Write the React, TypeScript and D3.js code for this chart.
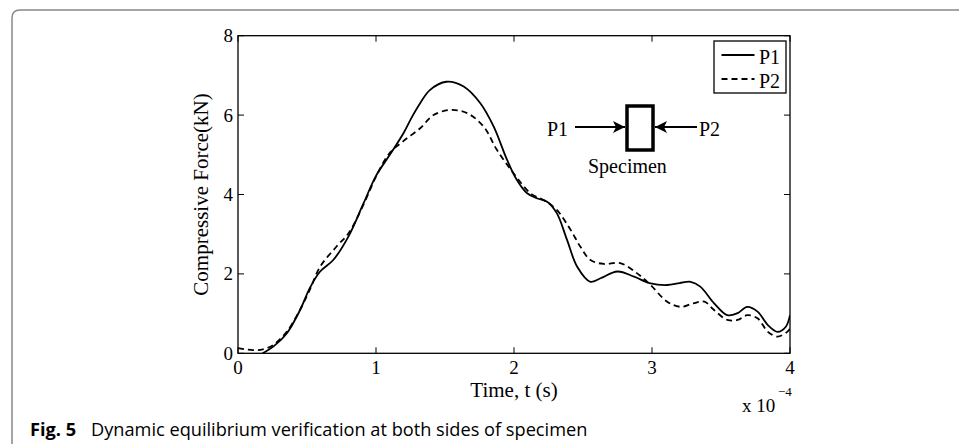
import React from "react";
import * as d3 from "d3";

// Time in units of 1e-4 s, force in kN
const p1Time = [0, 0.1, 0.18, 0.26, 0.353, 0.45, 0.52, 0.595, 0.69, 0.8, 0.91, 1.0, 1.1, 1.2, 1.26, 1.32, 1.39, 1.51, 1.635, 1.756, 1.853, 1.95, 2.02, 2.095, 2.17, 2.24, 2.31, 2.385, 2.458, 2.554, 2.627, 2.75, 2.87, 2.99, 3.11, 3.2, 3.28, 3.35, 3.45, 3.546, 3.62, 3.69, 3.765, 3.84, 3.91, 3.97, 4.0];
const p1Force = [-0.3, -0.15, 0, 0.18, 0.5, 1.09, 1.64, 2.06, 2.35, 2.94, 3.78, 4.47, 5.0, 5.55, 5.95, 6.3, 6.63, 6.84, 6.72, 6.3, 5.71, 4.87, 4.37, 4.03, 3.9, 3.82, 3.53, 2.85, 2.18, 1.8, 1.89, 2.06, 1.93, 1.76, 1.72, 1.77, 1.8, 1.68, 1.26, 0.96, 1.01, 1.17, 1.05, 0.71, 0.54, 0.67, 0.96];

const p2Time = [0, 0.11, 0.18, 0.255, 0.353, 0.45, 0.52, 0.595, 0.714, 0.8, 0.91, 1.0, 1.1, 1.2, 1.32, 1.417, 1.54, 1.66, 1.78, 1.877, 1.998, 2.12, 2.215, 2.31, 2.41, 2.48, 2.554, 2.65, 2.77, 2.89, 2.99, 3.11, 3.21, 3.3, 3.38, 3.45, 3.546, 3.62, 3.69, 3.765, 3.84, 3.91, 3.98, 4.0];
const p2Force = [0.13, 0.08, 0.1, 0.21, 0.54, 1.1, 1.6, 2.18, 2.69, 3.02, 3.75, 4.45, 5.05, 5.35, 5.67, 6.0, 6.13, 6.05, 5.71, 5.12, 4.53, 4.03, 3.86, 3.61, 3.11, 2.69, 2.35, 2.25, 2.27, 2.02, 1.72, 1.3, 1.17, 1.26, 1.3, 1.09, 0.84, 0.84, 0.96, 0.88, 0.54, 0.42, 0.54, 0.62];

const xTicks = [0, 1, 2, 3, 4];
const yTicks = [0, 2, 4, 6, 8];
const seriesNames = ["P1", "P2"];

const serif = "'Liberation Serif', 'Times New Roman', serif";
const sans = "'Open Sans', 'Noto Sans', sans-serif";

export default function App() {
  const W = 959, H = 444;
  const left = 238, right = 790, top = 35.7, bottom = 353.3;
  const x = d3.scaleLinear().domain([0, 4]).range([left, right]);
  const y = d3.scaleLinear().domain([0, 8]).range([bottom, top]);
  const line = d3
    .line<[number, number]>()
    .x((d) => x(d[0]))
    .y((d) => y(d[1]))
    .curve(d3.curveCatmullRom.alpha(0.5));
  const p1 = line(p1Time.map((t, i) => [t, p1Force[i]]) as [number, number][]) || "";
  const p2 = line(p2Time.map((t, i) => [t, p2Force[i]]) as [number, number][]) || "";
  const tl = 6;

  return (
    <svg width={W} height={H} style={{ position: "absolute", left: 0, top: 0, background: "#fff" }}>
      <defs>
        <clipPath id="plotclip">
          <rect x={left} y={top} width={right - left} height={bottom - top} />
        </clipPath>
        <marker id="ah" viewBox="0 0 10 10" refX="10" refY="5" markerWidth="12" markerHeight="12" markerUnits="userSpaceOnUse" orient="auto">
          <path d="M0,0 L10,5 L0,10 L2.5,5 Z" fill="#000" />
        </marker>
      </defs>
      {/* frame */}
      <path d="M12,444 L12,18 Q12,10 20,10 L959,10" fill="none" stroke="#888" strokeWidth={1.5} />

      {/* curves */}
      <g clipPath="url(#plotclip)">
        <path d={p1} fill="none" stroke="#000" strokeWidth={1.8} />
        <path d={p2} fill="none" stroke="#000" strokeWidth={1.8} strokeDasharray="6,4" />
      </g>

      {/* axes box */}
      <rect x={left} y={top} width={right - left} height={bottom - top} fill="none" stroke="#000" strokeWidth={1.3} />
      {xTicks.map((t) => (
        <g key={"x" + t}>
          <line x1={x(t)} x2={x(t)} y1={bottom} y2={bottom - tl} stroke="#000" strokeWidth={1} />
          <line x1={x(t)} x2={x(t)} y1={top} y2={top + tl} stroke="#000" strokeWidth={1} />
          <text x={x(t)} y={374} textAnchor="middle" fontFamily={serif} fontSize={19}>{t}</text>
        </g>
      ))}
      {yTicks.map((t) => (
        <g key={"y" + t}>
          <line x1={left} x2={left + tl} y1={y(t)} y2={y(t)} stroke="#000" strokeWidth={1} />
          <line x1={right} x2={right - tl} y1={y(t)} y2={y(t)} stroke="#000" strokeWidth={1} />
          <text x={233} y={y(t) + 6.5} textAnchor="end" fontFamily={serif} fontSize={19}>{t}</text>
        </g>
      ))}
      <text x={(left + right) / 2} y={397} textAnchor="middle" fontFamily={serif} fontSize={21}>Time, t (s)</text>
      <text x={742} y={412} fontFamily={serif} fontSize={19}>x 10</text>
      <text x={778} y={396} fontFamily={serif} fontSize={13}>−4</text>
      <text transform={`translate(208,${(top + bottom) / 2}) rotate(-90)`} textAnchor="middle" fontFamily={serif} fontSize={21}>Compressive Force(kN)</text>

      {/* legend */}
      <rect x={714} y={41} width={72} height={52} fill="#fff" stroke="#000" strokeWidth={1.3} />
      <line x1={721.5} x2={754.5} y1={55} y2={55} stroke="#000" strokeWidth={1.8} />
      <text x={759} y={64} fontFamily={serif} fontSize={20}>{seriesNames[0]}</text>
      <line x1={721.5} x2={754.5} y1={79} y2={79} stroke="#000" strokeWidth={1.8} strokeDasharray="6,4" />
      <text x={759} y={88} fontFamily={serif} fontSize={20}>{seriesNames[1]}</text>

      {/* specimen schematic */}
      <rect x={627} y={106} width={26} height={44} fill="#fff" stroke="#000" strokeWidth={3.5} />
      <line x1={575} x2={625} y1={127} y2={127} stroke="#000" strokeWidth={2} markerEnd="url(#ah)" />
      <line x1={697} x2={655} y1={127} y2={127} stroke="#000" strokeWidth={2} markerEnd="url(#ah)" />
      <text x={547} y={136} fontFamily={serif} fontSize={20}>P1</text>
      <text x={699} y={136} fontFamily={serif} fontSize={20}>P2</text>
      <text x={588} y={173} fontFamily={serif} fontSize={20}>Specimen</text>

      {/* caption */}
      <text x={30} y={436} fontFamily={sans} fontSize={18.2}>
        <tspan fontWeight="bold">Fig. 5</tspan>
        <tspan x={91}>Dynamic equilibrium verification at both sides of specimen</tspan>
      </text>
    </svg>
  );
}
